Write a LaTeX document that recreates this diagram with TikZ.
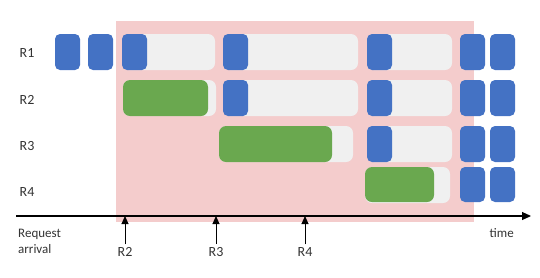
\documentclass[tikz,border=0pt]{standalone}
\usepackage{fontspec}
\setmainfont{Carlito}
\usepackage{xcolor}
\usetikzlibrary{arrows.meta}
\usetikzlibrary{positioning}
\definecolor{slotblue}{HTML}{4472C4}
\definecolor{prefillgreen}{HTML}{6AA84F}
\definecolor{idlegray}{HTML}{F0F0F0}
\definecolor{batchpink}{HTML}{F4CCCC}

\begin{document}
\begin{tikzpicture}[x=1pt,y=-1pt,
    decode/.style={fill=slotblue, rounded corners=5pt},
    prefill/.style={fill=prefillgreen, rounded corners=7pt},
    idle/.style={fill=idlegray, rounded corners=7pt},
    rowlabel/.style={font=\fontsize{14}{16}\selectfont, text=black!80},
    small/.style={font=\fontsize{13}{16}\selectfont, text=black!80, inner sep=1pt}]
    \useasboundingbox (0,0) rectangle (540,277);
    % batch window
    \fill[batchpink] (116,21) rectangle (474,222);
    % idle slots
    \foreach \x/\y/\w in {122/34/215, 223/34/358, 367/34/452,
                          123/80/216, 223/80/358, 367/80/452,
                          219/126/353, 367/126/452,
                          365/167/450}
        \fill[idle] (\x,\y) rectangle (\w,\y+36);
    % prefill
    \fill[prefill] (123,80) rectangle (208,116);
    \fill[prefill] (219,126) rectangle (332,162);
    \fill[prefill] (365,167) rectangle (434,202);
    % decode steps
    \foreach \x in {55,88,122,223,367,460,490}
        \fill[decode] (\x,34) rectangle (\x+25,70);
    \foreach \x in {223,367,460,490}
        \fill[decode] (\x,80) rectangle (\x+25,116);
    \foreach \x in {367,460,490}
        \fill[decode] (\x,126) rectangle (\x+25,162);
    \foreach \x in {460,490}
        \fill[decode] (\x,167) rectangle (\x+25,202);
    % rows
    \node[rowlabel] (r1) at (27,53) {R1};
    \node[rowlabel] (r2) at (27,100) {R2};
    \node[rowlabel] (r3) at (27,146) {R3};
    \node[rowlabel] (r4) at (27,192) {R4};
    % time axis
    \coordinate (t0) at (16,216);
    \coordinate (tend) at (531,216);
    \draw[line width=1.2pt, -{Triangle[length=9pt,width=8pt]}] (t0) -- (tend);
    \node[small, anchor=north east] (time) at (515,227) {time};
    \node[small, anchor=north west, align=left] (req) at (17,228) {Request\\arrival};
    % arrivals
    \foreach \x/\r in {125/2, 216/3, 305/4} {
        \coordinate (t\r) at (\x,216);
        \node[rowlabel, inner sep=1pt] (a\r) at (\x,252) {R\r};
        \draw[line width=1pt, -{Triangle[length=8pt,width=7pt]}, shorten <=2pt] (a\r.north) -- (t\r);
    }
\end{tikzpicture}
\end{document}
